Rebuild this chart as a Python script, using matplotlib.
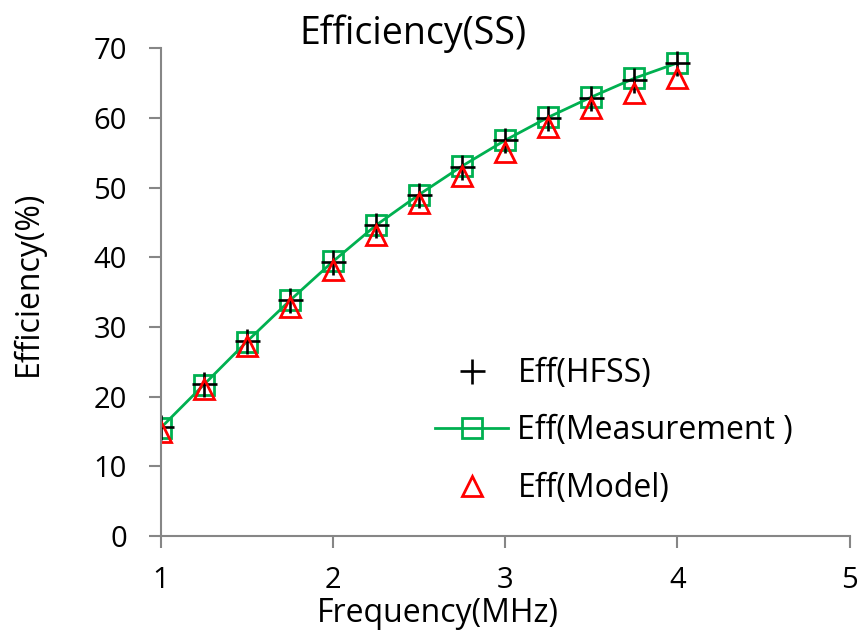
import numpy as np
import matplotlib.pyplot as plt

plt.rcParams['font.family'] = ['Open Sans', 'DejaVu Sans']

# frequency (MHz) and efficiency (%)
freq = [1.0, 1.25, 1.5, 1.75, 2.0, 2.25, 2.5, 2.75, 3.0, 3.25, 3.5, 3.75, 4.0]
eff_hfss = [15.6, 21.8, 28.0, 33.9, 39.3, 44.6, 48.9, 52.9, 56.8, 60.0, 62.8, 65.4, 67.9]
eff_meas = [15.5, 21.7, 27.9, 33.8, 39.4, 44.6, 49.0, 53.1, 56.8, 60.1, 63.0, 65.7, 67.9]
eff_model = [14.9, 21.1, 27.3, 32.9, 38.2, 43.2, 47.8, 51.6, 55.1, 58.7, 61.4, 63.6, 65.7]

fig = plt.figure(figsize=(8.6, 6.44), dpi=100)
ax = fig.add_axes([0.187, 0.168, 0.801, 0.757])

ax.plot(freq, eff_meas, color="#00b050", linewidth=2, marker="s", markersize=15,
        markerfacecolor="none", markeredgecolor="#00b050", markeredgewidth=2,
        label="Eff(Measurement )")
ax.plot(freq, eff_hfss, linestyle="none", marker="+", markersize=18,
        markeredgecolor="black", markeredgewidth=1.9, label="Eff(HFSS)")
ax.plot(freq, eff_model, linestyle="none", marker="^", markersize=15,
        markerfacecolor="none", markeredgecolor="red", markeredgewidth=2,
        label="Eff(Model)")

ax.set_xlim(1, 5)
ax.set_ylim(0, 70)
ax.set_xticks([1, 2, 3, 4, 5])
ax.set_yticks(np.arange(0, 71, 10))

for s in ["top", "right"]:
    ax.spines[s].set_visible(False)
for s in ["left", "bottom"]:
    ax.spines[s].set_color("#868686")
    ax.spines[s].set_linewidth(1.5)
ax.tick_params(axis="both", colors="#868686", width=1.5, length=8.5, labelsize=21,
               labelcolor="black", direction="out")
ax.tick_params(axis="y", pad=16)
ax.tick_params(axis="x", pad=13)

ax.set_title("Efficiency(SS)", fontsize=27, x=0.366, y=1.0, pad=3)
ax.set_xlabel("Frequency(MHz)", fontsize=23)
ax.set_ylabel("Efficiency(%)", fontsize=23)
ax.xaxis.set_label_coords(0.402, -0.125)
ax.yaxis.set_label_coords(-0.168, 0.518)

h, l = ax.get_legend_handles_labels()
order = [1, 0, 2]
ax.legend([h[i] for i in order], [l[i] for i in order], frameon=False, fontsize=23,
          loc="upper left", bbox_to_anchor=(0.398, 0.367), borderaxespad=0,
          borderpad=0, handlelength=2.3, labelspacing=0.77, handletextpad=0.28)

plt.savefig("out.png", dpi=100)
